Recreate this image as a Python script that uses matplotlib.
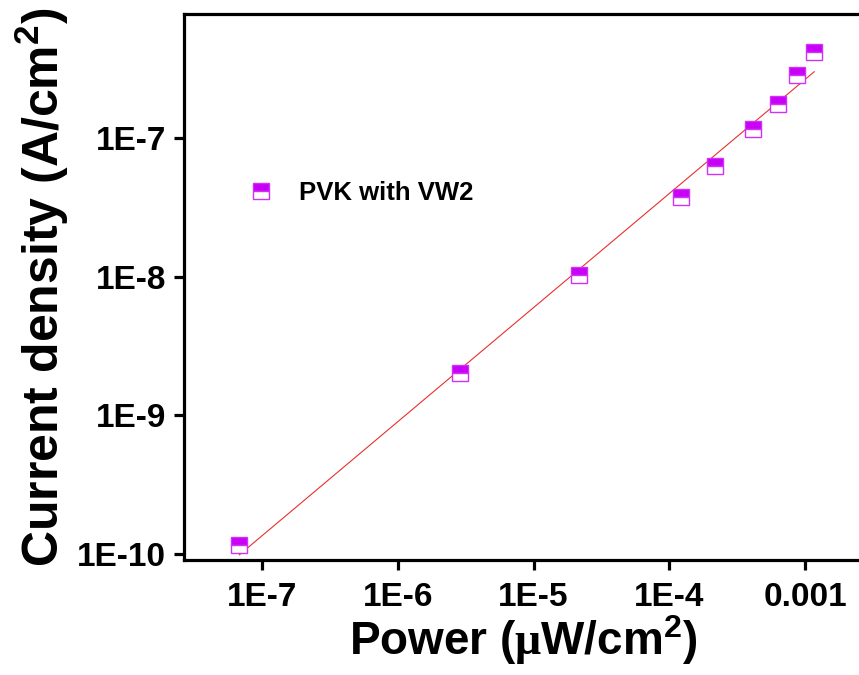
import numpy as np
import matplotlib
matplotlib.use('Agg')
import matplotlib.pyplot as plt

plt.rcParams['font.family'] = ['Liberation Sans', 'DejaVu Sans']
plt.rcParams['font.weight'] = 'bold'
plt.rcParams['mathtext.fontset'] = 'custom'
plt.rcParams['mathtext.default'] = 'regular'
plt.rcParams['mathtext.rm'] = 'Liberation Sans:bold'
plt.rcParams['mathtext.it'] = 'Liberation Sans:bold'
plt.rcParams['mathtext.sf'] = 'Liberation Serif'

# data
power = [6.78e-8, 2.85e-6, 2.17e-5, 1.22e-4, 2.18e-4, 4.16e-4, 6.33e-4, 8.71e-4, 1.17e-3]
current = [1.16e-10, 2.02e-9, 1.03e-8, 3.78e-8, 6.25e-8, 1.155e-7, 1.75e-7, 2.86e-7, 4.19e-7]
series_name = 'PVK with VW2'

x_ticks = [1e-7, 1e-6, 1e-5, 1e-4, 1e-3]
x_ticklabels = ['1E-7', '1E-6', '1E-5', '1E-4', '0.001']
y_ticks = [1e-10, 1e-9, 1e-8, 1e-7]
y_ticklabels = ['1E-10', '1E-9', '1E-8', '1E-7']

purple = '#C800F5'

fig = plt.figure(figsize=(8.59, 6.75), dpi=100)
ax = fig.add_axes([0.2142, 0.1704, 0.789, 0.8089])

# linear fit in log-log space
lx = np.log10(power)
ly = np.log10(current)
k, b = np.polyfit(lx, ly, 1)
fx = np.array([lx.min(), lx.max()])
ax.plot(10**fx, 10**(k * fx + b), color='#E8302E', lw=0.8, zorder=2)

ax.plot(power, current, linestyle='none', marker='s', markersize=11,
        fillstyle='top', markerfacecolor=purple, markerfacecoloralt='white',
        markeredgecolor='#D030F8', markeredgewidth=1.0, label=series_name, zorder=3)

ax.set_xscale('log')
ax.set_yscale('log')
ax.set_xlim(2.65e-8, 2.62e-3)
ax.set_ylim(9.06e-11, 7.83e-7)

ax.set_xticks(x_ticks)
ax.set_xticklabels(x_ticklabels)
ax.set_yticks(y_ticks)
ax.set_yticklabels(y_ticklabels)
ax.minorticks_off()
ax.tick_params(axis='both', which='major', direction='out', length=7, width=2.3,
               labelsize=24, pad=6)
ax.tick_params(axis='x', pad=9)
for lab in ax.get_xticklabels() + ax.get_yticklabels():
    lab.set_fontweight('bold')

for s in ax.spines.values():
    s.set_linewidth(2.3)

ax.set_xlabel(r'Power ($\mathsf{\mu}$W/cm$^{2}$)', fontsize=33, fontweight='bold', labelpad=0)
ax.set_ylabel(r'Current density (A/cm$^{2}$)', fontsize=36, fontweight='bold', labelpad=4)

ax.legend(loc='center left', bbox_to_anchor=(0.094, 0.672), frameon=False,
          handlelength=1.0, handletextpad=1.0, borderpad=0,
          borderaxespad=0, prop={'weight': 'bold', 'size': 18.5})

fig.savefig('out.png', dpi=100)
